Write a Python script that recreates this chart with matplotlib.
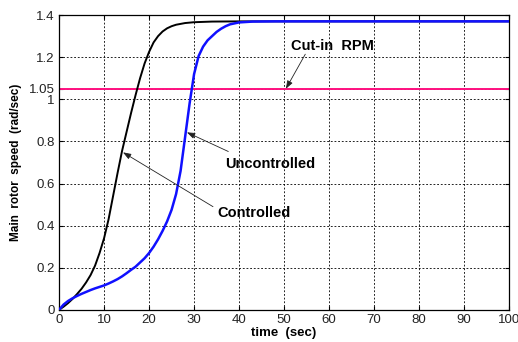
import matplotlib
matplotlib.use("Agg")
import matplotlib.pyplot as plt

plt.rcParams['font.family'] = ['Liberation Sans', 'DejaVu Sans']

# rotor run-up, time in seconds
t_ctrl = [0, 1, 2, 3, 4, 5, 6, 7, 8, 9, 10, 11, 12, 13, 14, 15, 16, 17, 18, 19,
          20, 21, 22, 23, 24, 25, 26, 28, 30, 34, 40, 100]
w_ctrl = [0, 0.015, 0.032, 0.052, 0.075, 0.10, 0.13, 0.165, 0.21, 0.27, 0.34,
          0.43, 0.54, 0.65, 0.755, 0.845, 0.935, 1.02, 1.10, 1.17, 1.225, 1.27,
          1.30, 1.322, 1.337, 1.347, 1.354, 1.362, 1.366, 1.369, 1.37, 1.37]

t_unc = [0, 1, 2, 3, 4, 5, 6, 7, 8, 9, 10, 11, 12, 13, 14, 15, 16, 17, 18, 19,
         20, 21, 22, 23, 24, 25, 26, 27, 28, 29, 30, 31, 32, 33, 34, 35, 36, 37,
         38, 40, 43, 48, 100]
w_unc = [0, 0.025, 0.042, 0.055, 0.066, 0.076, 0.085, 0.094, 0.102, 0.109, 0.116,
         0.125, 0.135, 0.146, 0.159, 0.174, 0.19, 0.205, 0.225, 0.245, 0.27, 0.30,
         0.335, 0.375, 0.42, 0.475, 0.55, 0.66, 0.82, 0.98, 1.12, 1.205, 1.25,
         1.28, 1.30, 1.32, 1.335, 1.347, 1.356, 1.365, 1.369, 1.37, 1.37]

cut_in = 1.05

x_ticks = [0, 10, 20, 30, 40, 50, 60, 70, 80, 90, 100]
y_ticks = [0, 0.2, 0.4, 0.6, 0.8, 1, 1.05, 1.2, 1.4]
y_labels = ['0', '0.2', '0.4', '0.6', '0.8', '1', '1.05', '1.2', '1.4']

fig = plt.figure(figsize=(5.18, 3.42), dpi=100)
ax = fig.add_axes([0.114, 0.094, 0.869, 0.862])

ax.plot(t_ctrl, w_ctrl, color='black', lw=1.4, zorder=3)
ax.plot(t_unc, w_unc, color='#1010ff', lw=1.8, zorder=3)
ax.axhline(cut_in, color='#ff1080', lw=1.4, zorder=2)

ax.set_xlim(0, 100)
ax.set_ylim(0, 1.4)
ax.set_xticks(x_ticks)
ax.set_yticks(y_ticks)
ax.set_yticklabels(y_labels)
ax.tick_params(direction='in', top=True, right=True, labelsize=9.5, length=3,
               width=0.8, pad=3, labelcolor='#222222')
ax.grid(True, color='black', linestyle=(0, (2.2, 2.2)), linewidth=0.6)
for s in ax.spines.values():
    s.set_linewidth(0.9)

ax.set_xlabel('time  (sec)', fontsize=9.5, fontweight='bold', labelpad=1)
ax.set_ylabel('Main  rotor  speed  (rad/sec)', fontsize=8.5, fontweight='bold', labelpad=5)

arrow = dict(arrowstyle='-|>,head_length=0.6,head_width=0.22', color='#222222',
             lw=0.6, shrinkA=0, shrinkB=0, mutation_scale=8)
ax.annotate('', xy=(50.4, cut_in), xytext=(54.7, 1.214), arrowprops=arrow)
ax.annotate('', xy=(28.4, 0.843), xytext=(37.6, 0.752), arrowprops=arrow)
ax.annotate('', xy=(14.2, 0.748), xytext=(34.2, 0.49), arrowprops=arrow)

ax.text(60.7, 1.252, 'Cut-in  RPM', fontsize=10.5, fontweight='bold', ha='center', va='center')
ax.text(47.0, 0.695, 'Uncontrolled', fontsize=10.5, fontweight='bold', ha='center', va='center')
ax.text(43.3, 0.462, 'Controlled', fontsize=10.5, fontweight='bold', ha='center', va='center')

fig.savefig('out.png', dpi=100)
